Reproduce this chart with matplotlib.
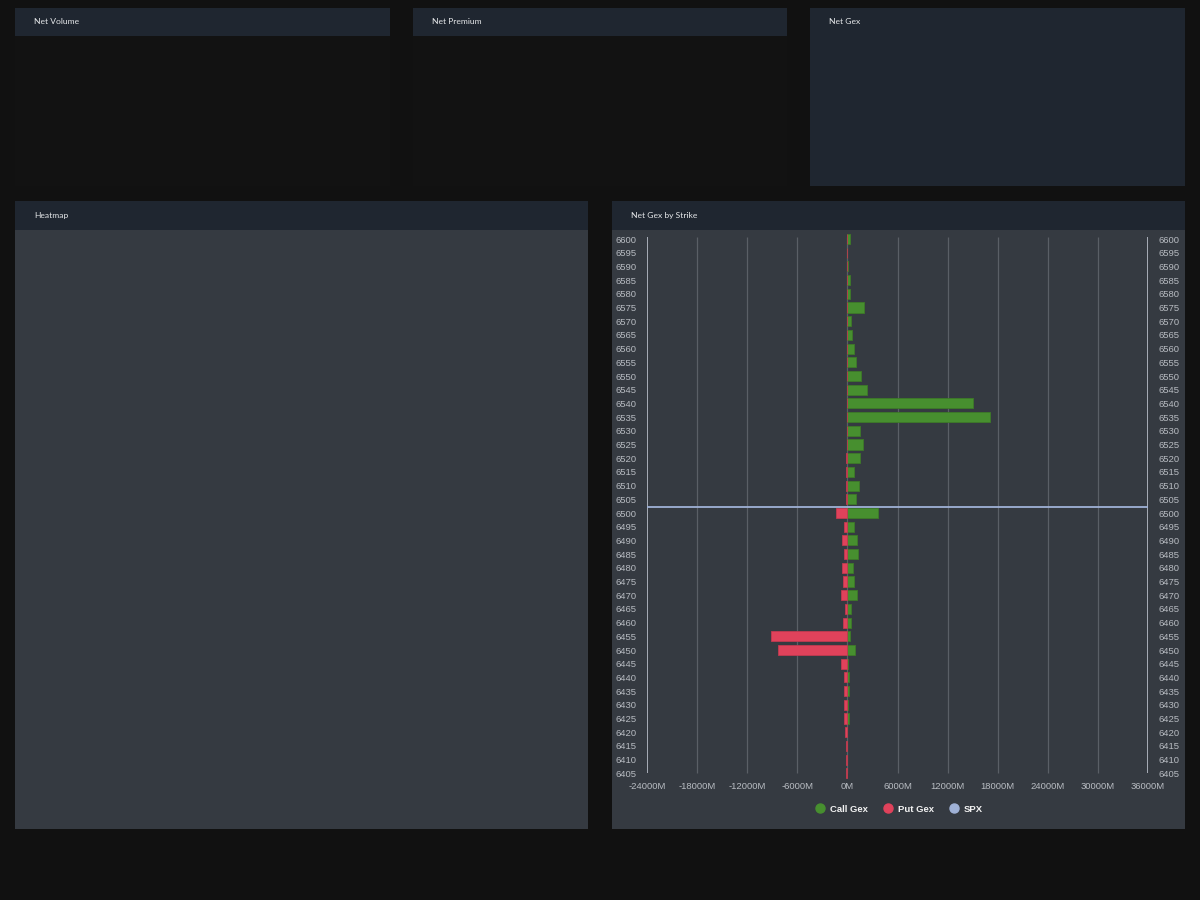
import matplotlib
matplotlib.use("Agg")
import matplotlib.pyplot as plt
from matplotlib.patches import Rectangle
from matplotlib.lines import Line2D

strikes = [6600, 6595, 6590, 6585, 6580, 6575, 6570, 6565, 6560, 6555,
           6550, 6545, 6540, 6535, 6530, 6525, 6520, 6515, 6510, 6505,
           6500, 6495, 6490, 6485, 6480, 6475, 6470, 6465, 6460, 6455,
           6450, 6445, 6440, 6435, 6430, 6425, 6420, 6415, 6410, 6405]
call_gex = [300, 0, 100, 300, 300, 2000, 450, 540, 780, 980,
            1620, 2340, 15000, 17070, 1540, 1820, 1460, 780, 1340, 1060,
            3690, 780, 1180, 1260, 620, 820, 1100, 380, 380, 260,
            900, 60, 140, 140, 60, 140, 0, 0, 0, 0]
put_gex = [0, 0, 0, 0, 0, 0, 0, 0, 0, -60,
           -60, -60, -60, -60, -60, -60, -180, -170, -180, -180,
           -1380, -380, -660, -380, -660, -540, -740, -260, -540, -9160,
           -8360, -740, -460, -380, -460, -380, -300, -180, -180, -180]
spx_price = 6502.2
x_ticks = [-24000, -18000, -12000, -6000, 0, 6000, 12000, 18000, 24000, 30000, 36000]

BG = "#111111"
HEADER = "#1f2630"
BODY = "#353a41"
GREEN = "#478f2f"
RED = "#e0425b"
SPX_C = "#9fb1d6"
TICK_C = "#b8bcc2"

W, H = 1200, 900
fig = plt.figure(figsize=(12, 9), dpi=100)
fig.patch.set_facecolor(BG)


def px_rect(x0, y0, x1, y1, color):
    fig.patches.append(Rectangle((x0 / W, 1 - y1 / H), (x1 - x0) / W, (y1 - y0) / H,
                                 transform=fig.transFigure, facecolor=color,
                                 edgecolor="none", zorder=-5))


def header(x0, y0, x1, y1, title):
    px_rect(x0, y0, x1, y1, HEADER)
    fig.text((x0 + 19) / W, 1 - ((y0 + y1) / 2) / H, title, color="#e6e8ea",
             fontsize=6.1, family="Lato", va="center", ha="left")


# top row panels
px_rect(15, 36, 390, 186, "#121212")
px_rect(413, 36, 787, 186, "#121212")
header(15, 8, 390, 36, "Net Volume")
header(413, 8, 787, 36, "Net Premium")
px_rect(810, 8, 1185, 186, HEADER)
fig.text(829 / W, 1 - 21 / H, "Net Gex", color="#e6e8ea", fontsize=6.1,
         family="Lato", va="center", ha="left")

# bottom panels
px_rect(15, 230, 588, 829, BODY)
header(15, 201, 588, 230, "Heatmap")
px_rect(612, 230, 1185, 829, BODY)
header(612, 201, 1185, 230, "Net Gex by Strike")

# chart axes
left, right, top, bottom = 647, 1148, 232.15, 780.15
ax = fig.add_axes([left / W, 1 - bottom / H, (right - left) / W, (bottom - top) / H])
ax.set_facecolor("none")
ax.set_xlim(-24000, 36000)
ax.set_ylim(6405 - 2.5, 6600 + 2.5)

ax.vlines(x_ticks[1:-1], 6405, 6600.7, color="#5a5f66", linewidth=0.9, zorder=1)
ax.vlines([x_ticks[0], x_ticks[-1]], 6405, 6600.7, color="#c8cdd8", linewidth=1.1, zorder=1)

ax.barh(strikes, call_gex, height=3.7, color=GREEN, edgecolor="#3d7a28",
        linewidth=0.6, zorder=3)
ax.barh(strikes, put_gex, height=3.7, color=RED, edgecolor="#c23a50",
        linewidth=0.6, zorder=3)
ax.hlines(spx_price, -24000, 36000, color=SPX_C, linewidth=1.3, zorder=4)

for s in ax.spines.values():
    s.set_visible(False)

ax.set_yticks(strikes)
ax.set_yticklabels([str(s) for s in strikes])
ax.set_xticks(x_ticks)
ax.set_xticklabels([f"{v}M" for v in x_ticks])
ax.tick_params(axis="y", length=0, pad=7.6, labelsize=6.8, labelcolor=TICK_C,
               left=True, right=True, labelleft=True, labelright=True)
ax.tick_params(axis="x", length=0, pad=1.5, labelsize=6.8, labelcolor=TICK_C)
for t in ax.yaxis.get_major_ticks() + ax.xaxis.get_major_ticks():
    t.label1.set_family("Liberation Sans")
    t.label2.set_family("Liberation Sans")

handles = [
    Line2D([], [], marker="o", linestyle="none", markersize=6.5, color=GREEN, label="Call Gex"),
    Line2D([], [], marker="o", linestyle="none", markersize=6.5, color=RED, label="Put Gex"),
    Line2D([], [], marker="o", linestyle="none", markersize=6.5, color=SPX_C, label="SPX"),
]
leg = ax.legend(handles=handles, loc="center", bbox_to_anchor=(0.502, -0.053),
                ncol=3, frameon=False, handletextpad=0.45, columnspacing=1.5,
                handlelength=1.2,
                prop={"family": "Liberation Sans", "weight": "bold", "size": 6.8})
for t in leg.get_texts():
    t.set_color("#f2f2f2")

fig.savefig("out.png", dpi=100, facecolor=BG)
